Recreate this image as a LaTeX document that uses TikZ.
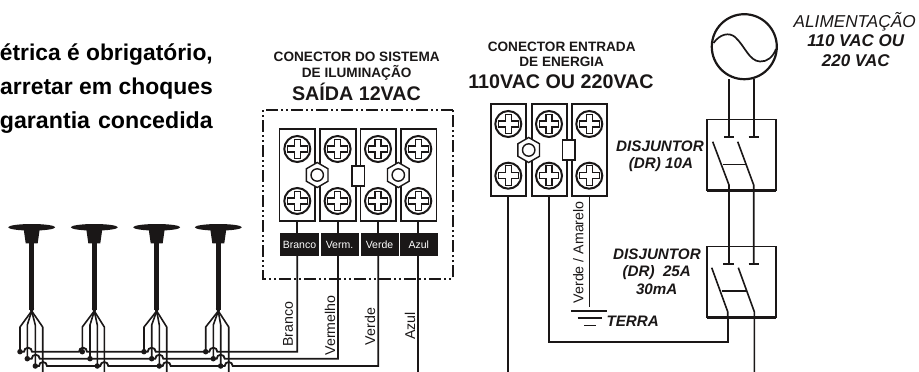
\documentclass[tikz,border=0pt]{standalone}
\usepackage{fontspec}
\setmainfont{Liberation Sans}
\usetikzlibrary{shapes.geometric}
\definecolor{ink}{HTML}{1A1717}
\newcommand{\fs}[1]{\fontsize{#1}{#1}\selectfont}
\tikzset{
  wire/.style={draw=ink,line width=1.8pt,line join=miter},
  thinwire/.style={draw=ink,line width=1.6pt,line join=round},
  termblock/.style={draw=ink,line width=1.7pt,fill=white,minimum height=92pt,inner sep=0pt,outer sep=0pt},
  tag/.style={fill=ink,text=white,font=\fs{10.5},minimum height=23.4pt,inner sep=0pt,outer sep=0pt,text height=7.6pt,text depth=0pt},
  breaker/.style={draw=ink,line width=1.7pt,inner sep=0pt,outer sep=0pt,minimum width=69pt,minimum height=71pt},
  title/.style={font=\bfseries\fs{13.6},text=ink,inner sep=0pt},
  bigtitle/.style={font=\bfseries\fs{19.7},text=ink,inner sep=0pt},
  rot/.style={rotate=90,font=\fs{14.2},text=ink,inner sep=0pt},
  lab/.style={font=\bfseries\itshape\fs{15.2},text=ink,inner sep=0pt},
  pow/.style={font=\bfseries\itshape\fs{17},text=ink,inner sep=0pt},
  warn/.style={text=black,inner sep=0pt,anchor=east},
  hexnut/.style={regular polygon,regular polygon sides=6,shape border rotate=30,draw=ink,line width=1.4pt,fill=white,minimum size=25pt,inner sep=0pt},
  fuse/.style={draw=ink,line width=1.6pt,fill=white,minimum width=12.5pt,minimum height=20pt,inner sep=0pt},
  dot/.style={circle,fill=ink,inner sep=0pt,minimum size=5.5pt},
  dashbox/.style={draw=ink,line width=1.7pt,dash pattern=on 12pt off 3pt on 2pt off 3pt on 2pt off 3pt}
}
\newcommand{\screw}[2]{%
  \fill[white] (#1,#2) circle[radius=13.5pt];
  \draw[ink,line width=2pt] (#1,#2) circle[radius=13pt];
  \draw[ink,line width=1.1pt] (#1-3,#2-9.8) -- (#1+3,#2-9.8) -- (#1+3,#2-3) -- (#1+9.8,#2-3) -- (#1+9.8,#2+3) -- (#1+3,#2+3) -- (#1+3,#2+9.8) -- (#1-3,#2+9.8) -- (#1-3,#2+3) -- (#1-9.8,#2+3) -- (#1-9.8,#2-3) -- (#1-3,#2-3) -- cycle;
}
\newcommand{\hopto}[2]{-- (#1-4,#2) arc[start angle=180,end angle=0,radius=4pt]}
\begin{document}
\begin{tikzpicture}[x=1pt,y=-1pt]
\useasboundingbox (0,0) rectangle (919,372);
\clip (0,0) rectangle (919,372);

% warning text
\node[warn,font=\bfseries\fs{22.8}] (w1) at (213,55) {étrica é obrigatório,};
\node[warn,font=\bfseries\fs{22.9}] (w2) at (213,89) {arretar em choques};
\node[warn,font=\bfseries\fs{23.2}] (w3) at (213,123) {garantia\kern1.5pt{} concedida};

% lighting connector titles
\node[title] (t1) at (356.7,57) {CONECTOR DO SISTEMA};
\node[title] (t2) at (356.7,72.7) {DE ILUMINAÇÃO};
\node[bigtitle] (t3) at (356.5,92) {SAÍDA 12VAC};

% lighting connector
\draw[dashbox] (452.7,110) -- (263,110) -- (263,279) -- (452.7,279) -- cycle;
\node[termblock,minimum width=35.6pt] (a1) at (297.3,175.2) {};
\node[termblock,minimum width=35.6pt] (a2) at (338,175.2) {};
\node[termblock,minimum width=35.6pt] (a3) at (378.3,175.2) {};
\node[termblock,minimum width=35.6pt] (a4) at (418.8,175.2) {};
\screw{297.3}{149}\screw{337.6}{149}\screw{378}{149}\screw{418.3}{149}
\screw{297.3}{201}\screw{337.6}{201}\screw{378}{201}\screw{418.3}{201}
\node[hexnut] (n1) at (317.2,175) {};
\draw[ink,line width=1.4pt] (n1) circle[radius=6.2pt];
\node[hexnut] (n2) at (398.3,175) {};
\draw[ink,line width=1.4pt] (n2) circle[radius=6.2pt];
\node[fuse] (f1) at (358.2,176) {};

\node[tag,minimum width=38.6pt] (l1) at (299.5,244.4) {Branco};
\node[tag,minimum width=38pt] (l2) at (339.5,244.4) {Verm.};
\node[tag,minimum width=38pt] (l3) at (379.5,244.4) {Verde};
\node[tag,minimum width=38pt] (l4) at (418.8,244.4) {Azul};

% lamps
\foreach \x in {31.7,94.3,156.7,218.3}{
  \fill[ink] (\x,227.3) ellipse[x radius=23.5pt,y radius=3.3pt];
  \fill[ink] (\x-8.3,227) -- (\x+8.3,227) -- (\x+6,243.3) -- (\x-6,243.3) -- cycle;
  \fill[ink] (\x-2.4,243) rectangle (\x+2.4,310);
  \fill[ink] (\x-2.4,308) -- (\x+2.4,308) -- (\x,315) -- cycle;
}
\foreach \x/\a/\b/\c/\d in {31.7/20/27.3/35.3/42.7, 94.3/82.3/90/97.3/104.3, 156.7/144/151.7/159.3/166.7, 218.3/205.7/213.3/220.7/228.7}{
  \draw[thinwire] (\x,311) -- (\a,327) -- (\a,351.7);
  \draw[thinwire] (\x,311) -- (\b,325) -- (\b,358.7);
  \draw[thinwire] (\x,311) -- (\c,325) -- (\c,366);
  \draw[thinwire] (\x,311) -- (\d,327) -- (\d,372);
  \node[dot] at (\a,351.7) {};
  \node[dot] at (\b,358.7) {};
  \node[dot] at (\c,366) {};
}

% buses
\coordinate (bus1) at (20,351.7);
\coordinate (bus2) at (27.3,358.7);
\coordinate (bus3) at (35.3,366);
\coordinate (az) at (418,372);
\draw[wire] (a1.south) -- (a1.south |- l1.north);
\draw[wire] (a2.south) -- (a2.south |- l2.north);
\draw[wire] (a3.south) -- (a3.south |- l3.north);
\draw[wire] (a4.south -| az) -- (az |- l4.north);
\draw[wire] (bus1) \hopto{28}{351.7} \hopto{83}{351.7} \hopto{151.7}{351.7} \hopto{213.3}{351.7} -- (a1.south |- bus1) -- (a1.south |- l1.south);
\draw[wire] (bus2) \hopto{35.7}{358.7} \hopto{159.3}{358.7} \hopto{220.7}{358.7} -- (a2.south |- bus2) -- (a2.south |- l2.south);
\draw[wire] (bus3) \hopto{43}{366} \hopto{104.3}{366} \hopto{166.7}{366} \hopto{228.7}{366} -- (a3.south |- bus3) -- (a3.south |- l3.south);
\draw[wire] (az |- l4.south) -- (az);

\node[rot] (r1) at (288,324) {Branco};
\node[rot] (r2) at (330,325.5) {Vermelho};
\node[rot] (r3) at (370,326.5) {Verde};
\node[rot] (r4) at (410,326) {Azul};

% mains connector
\node[title] (u1) at (561.7,47.3) {CONECTOR ENTRADA};
\node[title] (u2) at (561.7,62) {DE ENERGIA};
\node[bigtitle] (u3) at (561,82) {110VAC OU 220VAC};
\node[termblock,minimum width=35.3pt] (b1) at (508.3,149.8) {};
\node[termblock,minimum width=35pt] (b2) at (549.2,149.8) {};
\node[termblock,minimum width=35pt] (b3) at (589.8,149.8) {};
\screw{508.3}{124}\screw{549}{124}\screw{589.3}{124}
\screw{508.3}{175.7}\screw{549}{175.7}\screw{589.3}{175.7}
\node[hexnut] (n3) at (528.7,150) {};
\draw[ink,line width=1.4pt] (n3) circle[radius=6.2pt];
\node[fuse] (f2) at (568.8,150) {};

\coordinate (g0) at (589.5,306.7);
\coordinate (w1end) at (508.3,372);
\draw[wire] (b3.south -| g0) -- (g0);
\draw[wire] (b1.south) -- (w1end);
\draw[wire] (b2.south) -- (549.2,341.7) -- (727.7,341.7) -- (727.7,317.3);
\draw[line width=1.8pt,ink] (571,310.7) -- (607,310.7);
\draw[line width=1.5pt,ink] (577.7,318) -- (602,318);
\draw[line width=1.5pt,ink] (584,325.3) -- (596,325.3);
\node[lab] (tg) at (632.7,321.7) {TERRA};
\node[rot] (r5) at (578.3,252.3) {Verde / Amarelo};

% source
\node[circle,draw=ink,line width=2.2pt,minimum size=65pt,inner sep=0pt,outer sep=0pt] (src) at (744.3,46.7) {};
\draw[ink,line width=1.7pt] (713.5,43) .. controls (720,34) and (729,32) .. (735,37) .. controls (745,46) and (749,61) .. (760,61.5) .. controls (767,62) and (773,57) .. (776,49);
\node[font=\itshape\fs{17.2},text=ink,inner sep=0pt] (p1) at (854.7,21.7) {ALIMENTAÇÃO};
\node[pow] (p2) at (855.7,40.7) {110 VAC OU};
\node[pow] (p3) at (855.7,60.7) {220 VAC};

% breakers
\node[breaker] (d1) at (741.4,155) {};
\node[breaker] (d2) at (741.5,282) {};
\draw[ink,line width=2.4pt] (d1.south west) -- (d1.south east);
\draw[ink,line width=2.4pt] (d2.south west) -- (d2.south east);
\node[lab] (q1) at (660,146.7) {DISJUNTOR};
\node[lab] (q2) at (661,165) {(DR) 10A};
\node[lab] (q3) at (657,254.3) {DISJUNTOR};
\node[lab] (q4) at (656.7,272.3) {(DR)\ \ 25A};
\node[lab] (q5) at (656.7,289.3) {30mA};

% breaker 1 internals
\draw[wire] (729,79) -- (729,136.7);
\draw[wire] (753.7,79) -- (753.7,136.7);
\draw[thinwire] (724,136.7) -- (734,136.7);
\draw[thinwire] (748.7,136.7) -- (758.7,136.7);
\draw[thinwire] (712.7,141.7) -- (729,185) -- (729,264);
\draw[thinwire] (737.7,141.7) -- (753.7,185) -- (753.7,264);
\draw[thinwire,line width=1.3pt] (723,164.3) -- (746.7,164.3);
% breaker 2 internals
\draw[thinwire] (723,264) -- (734,264);
\draw[thinwire] (748.7,264) -- (759,264);
\draw[thinwire] (711.7,267.7) -- (727.7,311.7) -- (727.7,317.3);
\draw[thinwire] (738.3,267.7) -- (754.3,311.7) -- (754.3,372);
\draw[thinwire,line width=1.3pt] (721.7,291) -- (746.7,291);
\end{tikzpicture}
\end{document}
